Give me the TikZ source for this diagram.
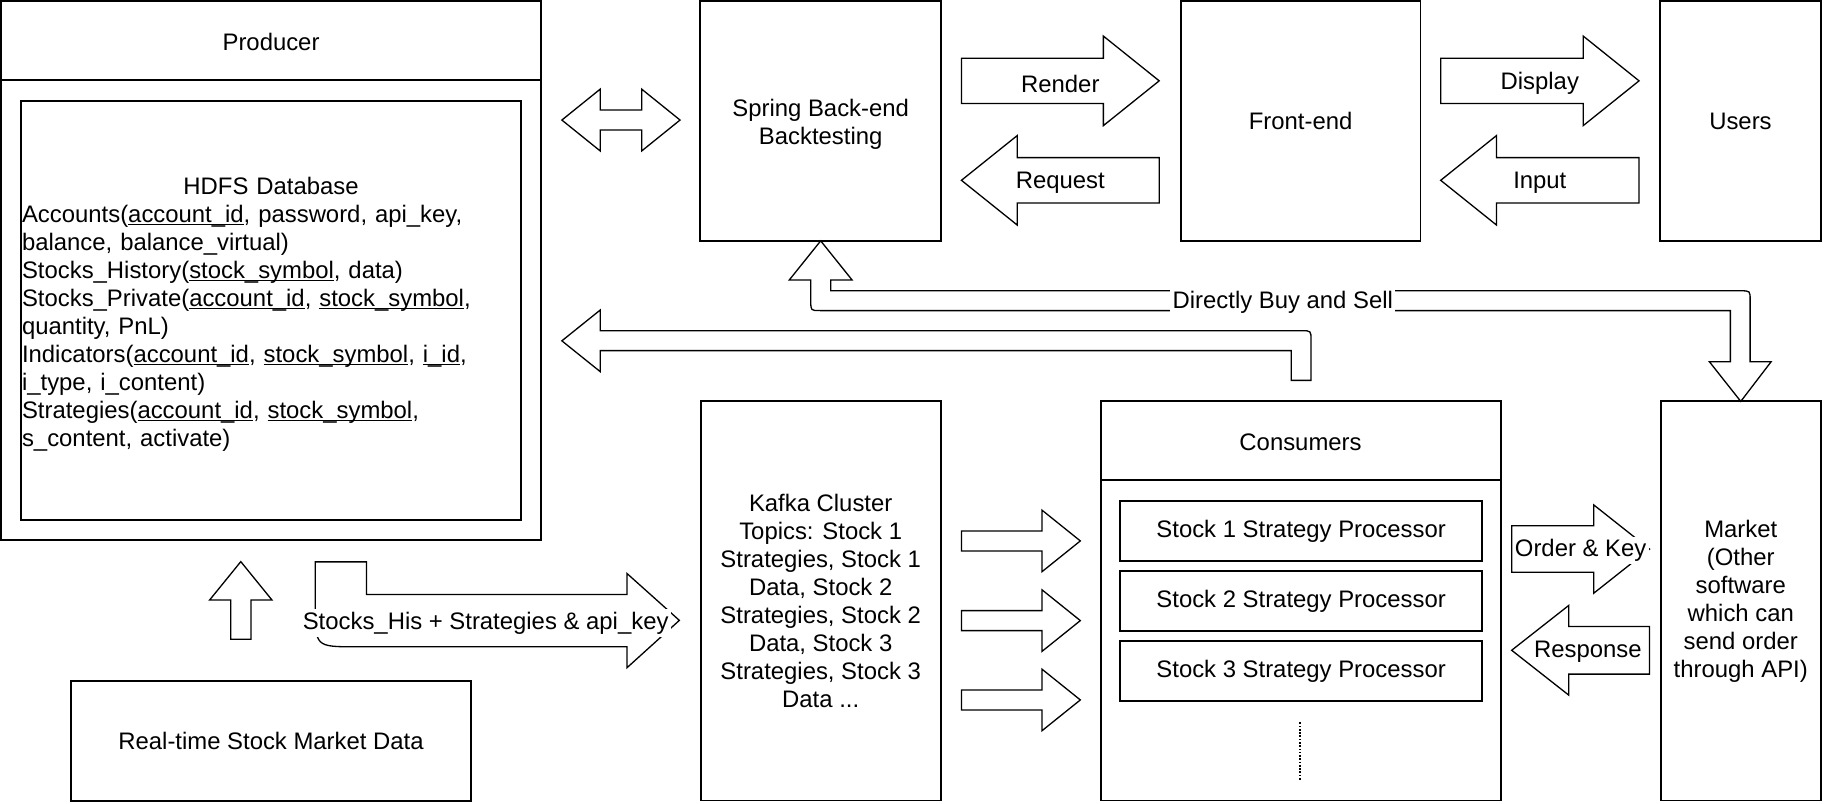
\documentclass[tikz,border=0pt]{standalone}
\usepackage{fontspec}
\setmainfont{Liberation Sans}
\usetikzlibrary{positioning}

% Underlined key attribute
\newcommand{\keyul}[1]{\setbox0\hbox{#1}\rlap{\rule[-1.8pt]{\wd0}{0.7pt}}\box0}
% Block arrow: tail, direction, length, half shaft width, half head width, head length
\newcommand{\blockarrow}[6]{%
	\draw[arrowline, shift={(#1)}, rotate=#2] (0,-#4) -- (#3-#6,-#4) -- (#3-#6,-#5) -- (#3,0) -- (#3-#6,#5) -- (#3-#6,#4) -- (0,#4) -- cycle;}

\begin{document}
\begin{tikzpicture}[x=0.025cm, y=-0.025cm, font=\fontsize{14.6}{17.1}\selectfont]
	% Styles
	\tikzstyle{box}       = [rectangle, draw, line width=1.2pt, inner sep=0pt, outer sep=0pt, align=center]
	\tikzstyle{arrowline} = [draw, line width=0.8pt, fill=white]
	\tikzstyle{arrowtext} = [fill=white, inner sep=1.5pt]

	\path[use as bounding box, fill=white] (0,0) rectangle (1568,691);

	% Producer with the database
	\node[box, minimum width=11.6cm, minimum height=11.575cm] (producer) at (233,232.5) {};
	\node (producer_text) at (233,36.5) {Producer};
	\draw[line width=1.2pt] (producer.west |- 0,69) -- (producer.east |- 0,69);
	\node[box, minimum width=10.75cm, minimum height=9cm] (hdfs) at (233,267) {};
	\node[text width=10.7cm, inner sep=0pt] (hdfs_text) at (233,270) {%
		\centering\noindent HDFS Database\par
		\raggedright\noindent Accounts(\keyul{account\_id}, password, api\_key,\\
		balance, balance\_virtual)\\
		Stocks\_History(\keyul{stock\_symbol}, data)\\
		Stocks\_Private(\keyul{account\_id}, \keyul{stock\_symbol},\\
		quantity, PnL)\\
		Indicators(\keyul{account\_id}, \keyul{stock\_symbol}, \keyul{i\_id},\\
		i\_type, i\_content)\\
		Strategies(\keyul{account\_id}, \keyul{stock\_symbol},\\
		s\_content, activate)};
	\node[box, minimum width=8.6cm, minimum height=2.575cm] (realtime) [below=3.035cm of producer] {Real-time Stock Market Data};

	% Boxes in the top row
	\node[box, minimum width=5.175cm, minimum height=5.15cm] (spring) at (705.5,104) {\rule{0pt}{0.53cm}Spring Back-end\\Backtesting};
	\node[box, minimum width=5.15cm, minimum height=5.15cm] (frontend) [right=5.15cm of spring] {Front-end};
	\node[box, minimum width=3.45cm, minimum height=5.15cm] (users) [right=5.15cm of frontend] {Users};

	% Boxes in the bottom row
	\node[box, minimum width=5.16cm, minimum height=8.575cm] (kafka) [below=3.45cm of spring] {Kafka Cluster\\Topics: Stock 1\\Strategies, Stock 1\\Data, Stock 2\\Strategies, Stock 2\\Data, Stock 3\\Strategies, Stock 3\\Data ...};
	\node[box, minimum width=8.6cm, minimum height=8.575cm] (consumers) [right=3.4325cm of kafka] {};
	\node[box, minimum width=3.4375cm, minimum height=8.575cm] (market) [right=3.4375cm of consumers] {Market\\(Other\\software\\which can\\send order\\through API)};

	% Consumers with processors
	\node (consumers_text) at (1118,380) {Consumers};
	\draw[line width=1.2pt] (consumers.west |- 0,412.6) -- (consumers.east |- 0,412.6);
	\foreach \i/\y in {1/456.5,2/516.5,3/576.8}
		\node[box, minimum width=7.775cm, minimum height=1.3cm] (proc\i) at (1118.5,\y) {Stock \i\ Strategy Processor};
	\draw[line width=1pt, dash pattern=on 1pt off 1pt] (1117.5,621) -- (1117.5,671);

	% Arrows between front-end, back-end and users
	\blockarrow{826.5,69.5}{0}{170}{19.5}{38.5}{48}
	\blockarrow{996.5,155}{180}{170}{19.5}{38.5}{48}
	\blockarrow{1238.5,69.5}{0}{170.5}{19.5}{38.5}{48}
	\blockarrow{1409,155}{180}{170.5}{19.5}{38.5}{48}
	\node (render_text)  at (911.5,72)  {Render};
	\node (request_text) at (911.5,157) {Request};
	\node (display_text) at (1323.7,72) {Display};
	\node (input_text)   at (1323.7,157) {Input};

	% Producer <-> back-end
	\draw[arrowline] (483,103.2) -- (516,76.6) -- (516,94.6) -- (551.6,94.6) -- (551.6,76.6) -- (584.6,103.2) -- (551.6,129.8) -- (551.6,111.8) -- (516,111.8) -- (516,129.8) -- cycle;

	% Kafka to consumers
	\foreach \y in {465,533.5,601.7} {\blockarrow{826.5,\y}{0}{102.2}{8.6}{26.5}{33}}

	% Consumers and market
	\blockarrow{1299.5,472}{0}{118.5}{20}{38}{48}
	\blockarrow{1418,559}{180}{118.5}{20.5}{38.5}{49}
	\node[arrowtext] (order_text) at (1358.8,473.5) {Order \& Key};
	\node (response_text) at (1365,560) {Response};

	% Real-time data to producer
	\blockarrow{207,549.6}{90}{66.8}{8.7}{26.8}{33}

	% Consumers back to producer
	\coordinate (producer_in) at (483,293);
	\draw[arrowline] (producer_in) -- ++(33,-26.5) -- ++(0,17.8) -- (1119,284.3) .. controls (1127,284.3) .. (1127,292.3) -- (1127,327) -- (1110,327) -- (1110,301.4) -- (516,301.4) -- (516,319.5) -- cycle;

	% Directly buy and sell
	\draw[arrowline] (spring.south) -- (732.5,240.7) -- (714.1,240.7) -- (714.1,250) -- (1496.5,250) .. controls (1504.5,250) .. (1504.5,258) -- (1504.5,311) -- (1522.5,311) -- (market.north) -- (1469.5,311) -- (1487.5,311) -- (1487.5,267) -- (705,267) .. controls (697,267) .. (697,259) -- (697,240.7) -- (678.5,240.7) -- cycle;
	\node[arrowtext] (buysell_text) at (1102.8,259.5) {Directly Buy and Sell};

	% Producer to Kafka
	\coordinate (kafka_in) at (584,533.3);
	\draw[arrowline] (271,483) -- (315,483) -- (315,511) -- (539,511) -- (539,493) -- (kafka_in) -- (539,574) -- (539,556) -- (306,556) .. controls (271,556) .. (271,521) -- cycle;
	\node[arrowtext] (stockshis_text) at (417.5,535.5) {Stocks\_His + Strategies \& api\_key};
\end{tikzpicture}
\end{document}
